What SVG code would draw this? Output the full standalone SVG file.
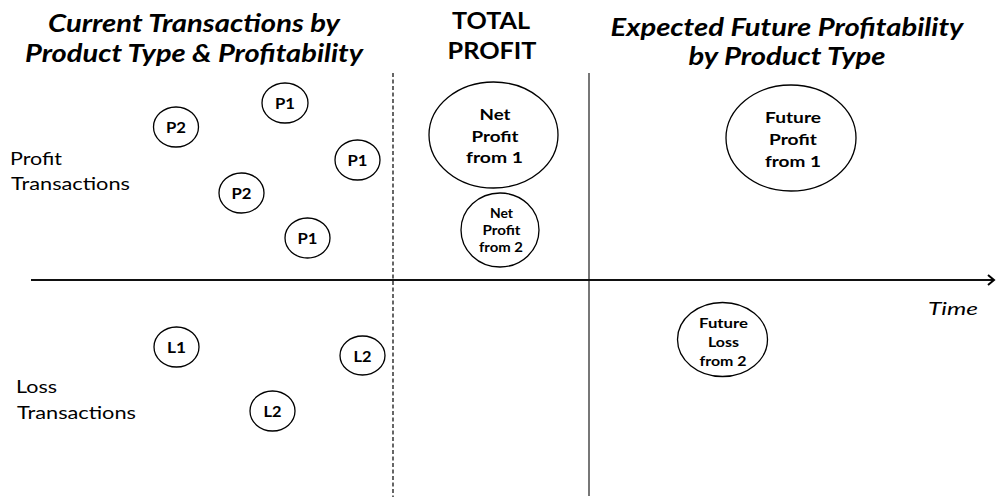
<svg xmlns="http://www.w3.org/2000/svg" width="997" height="497" viewBox="0 0 997 497">
<style>
text{font-family:Lato,"Open Sans","Liberation Sans",sans-serif;fill:#000}
.title{font-size:24px;font-weight:bold;font-style:italic}
.head{font-size:23px;font-weight:bold}
.side{font-size:18px}
.time{font-size:18px;font-style:italic}
.lbl{font-size:15px;font-weight:bold;text-anchor:middle}
.big{font-size:16px;font-weight:bold;text-anchor:middle}
.sm{font-size:13px;font-weight:bold;text-anchor:middle}
ellipse{fill:#fff;stroke:#000;stroke-width:1.3}
</style>
<defs>
<marker id="arr" markerWidth="10" markerHeight="12" refX="7" refY="6" orient="auto" markerUnits="userSpaceOnUse">
<path d="M1,1 L7,6 L1,11" fill="none" stroke="#000" stroke-width="2"/>
</marker>
</defs>
<rect width="997" height="497" fill="#fff"/>

<g id="titles">
<text class="title" x="194" y="32" text-anchor="middle" textLength="292" lengthAdjust="spacingAndGlyphs">Current Transactions by</text>
<text class="title" x="194" y="62" text-anchor="middle" textLength="338" lengthAdjust="spacingAndGlyphs">Product Type &amp; Profitability</text>
<text class="head" x="491" y="29" text-anchor="middle" textLength="78" lengthAdjust="spacingAndGlyphs">TOTAL</text>
<text class="head" x="492" y="59" text-anchor="middle" textLength="89" lengthAdjust="spacingAndGlyphs">PROFIT</text>
<text class="title" x="787" y="36" text-anchor="middle" textLength="353" lengthAdjust="spacingAndGlyphs">Expected Future Profitability</text>
<text class="title" x="787" y="65" text-anchor="middle" textLength="197" lengthAdjust="spacingAndGlyphs">by Product Type</text>
</g>

<g id="side-labels">
<text class="side" x="10" y="165" textLength="52" lengthAdjust="spacingAndGlyphs">Profit</text>
<text class="side" x="11" y="190" textLength="119" lengthAdjust="spacingAndGlyphs">Transactions</text>
<text class="side" x="16" y="393" textLength="41" lengthAdjust="spacingAndGlyphs">Loss</text>
<text class="side" x="17" y="419" textLength="119" lengthAdjust="spacingAndGlyphs">Transactions</text>
<text class="time" x="928" y="315" textLength="50" lengthAdjust="spacingAndGlyphs">Time</text>
</g>

<g id="connectors">
<line x1="393" y1="73" x2="393" y2="497" stroke="#000" stroke-width="1.2" stroke-dasharray="4,2.5"/>
<line x1="589" y1="73" x2="589" y2="496" stroke="#777" stroke-width="2"/>
<line x1="31" y1="280" x2="994" y2="280" stroke="#111" stroke-width="2" marker-end="url(#arr)"/>
</g>

<g id="p1-top"><ellipse cx="285" cy="103" rx="23" ry="20"/><text class="lbl" x="285" y="109" textLength="20" lengthAdjust="spacingAndGlyphs">P1</text></g>
<g id="p2-left"><ellipse cx="176" cy="127" rx="22.5" ry="20"/><text class="lbl" x="176" y="133" textLength="20" lengthAdjust="spacingAndGlyphs">P2</text></g>
<g id="p1-right"><ellipse cx="357.5" cy="160" rx="22.5" ry="20"/><text class="lbl" x="357.5" y="166" textLength="20" lengthAdjust="spacingAndGlyphs">P1</text></g>
<g id="p2-mid"><ellipse cx="241.5" cy="193" rx="22.5" ry="20"/><text class="lbl" x="241.5" y="199" textLength="20" lengthAdjust="spacingAndGlyphs">P2</text></g>
<g id="p1-bottom"><ellipse cx="307.5" cy="238" rx="22.5" ry="20"/><text class="lbl" x="307.5" y="244" textLength="20" lengthAdjust="spacingAndGlyphs">P1</text></g>

<g id="l1"><ellipse cx="176.5" cy="347" rx="22.5" ry="20"/><text class="lbl" x="176.5" y="353" textLength="19" lengthAdjust="spacingAndGlyphs">L1</text></g>
<g id="l2-right"><ellipse cx="362.5" cy="355.5" rx="22.5" ry="19.5"/><text class="lbl" x="362.5" y="361.5" textLength="18" lengthAdjust="spacingAndGlyphs">L2</text></g>
<g id="l2-bottom"><ellipse cx="272.5" cy="411" rx="22.5" ry="20"/><text class="lbl" x="272.5" y="417" textLength="18" lengthAdjust="spacingAndGlyphs">L2</text></g>

<g id="net-profit-1">
<ellipse cx="493.5" cy="135" rx="64.5" ry="53"/>
<text class="big" x="495" y="120" textLength="31" lengthAdjust="spacingAndGlyphs">Net</text>
<text class="big" x="495" y="142" textLength="47" lengthAdjust="spacingAndGlyphs">Profit</text>
<text class="big" x="494.5" y="163" textLength="57" lengthAdjust="spacingAndGlyphs">from 1</text>
</g>
<g id="net-profit-2">
<ellipse cx="500" cy="230" rx="39" ry="37"/>
<text class="sm" x="501.5" y="218" textLength="23" lengthAdjust="spacingAndGlyphs">Net</text>
<text class="sm" x="501.5" y="235" textLength="38" lengthAdjust="spacingAndGlyphs">Profit</text>
<text class="sm" x="501" y="252" textLength="44" lengthAdjust="spacingAndGlyphs">from 2</text>
</g>
<g id="future-profit-1">
<ellipse cx="791" cy="138" rx="65" ry="53"/>
<text class="big" x="793" y="123" textLength="56" lengthAdjust="spacingAndGlyphs">Future</text>
<text class="big" x="793" y="145" textLength="48" lengthAdjust="spacingAndGlyphs">Profit</text>
<text class="big" x="793" y="167" textLength="56" lengthAdjust="spacingAndGlyphs">from 1</text>
</g>
<g id="future-loss-2">
<ellipse cx="722.5" cy="339.5" rx="45" ry="37"/>
<text class="sm" x="723.5" y="328" textLength="49" lengthAdjust="spacingAndGlyphs">Future</text>
<text class="sm" x="723.5" y="347" textLength="31" lengthAdjust="spacingAndGlyphs">Loss</text>
<text class="sm" x="723" y="366" textLength="47" lengthAdjust="spacingAndGlyphs">from 2</text>
</g>
</svg>
